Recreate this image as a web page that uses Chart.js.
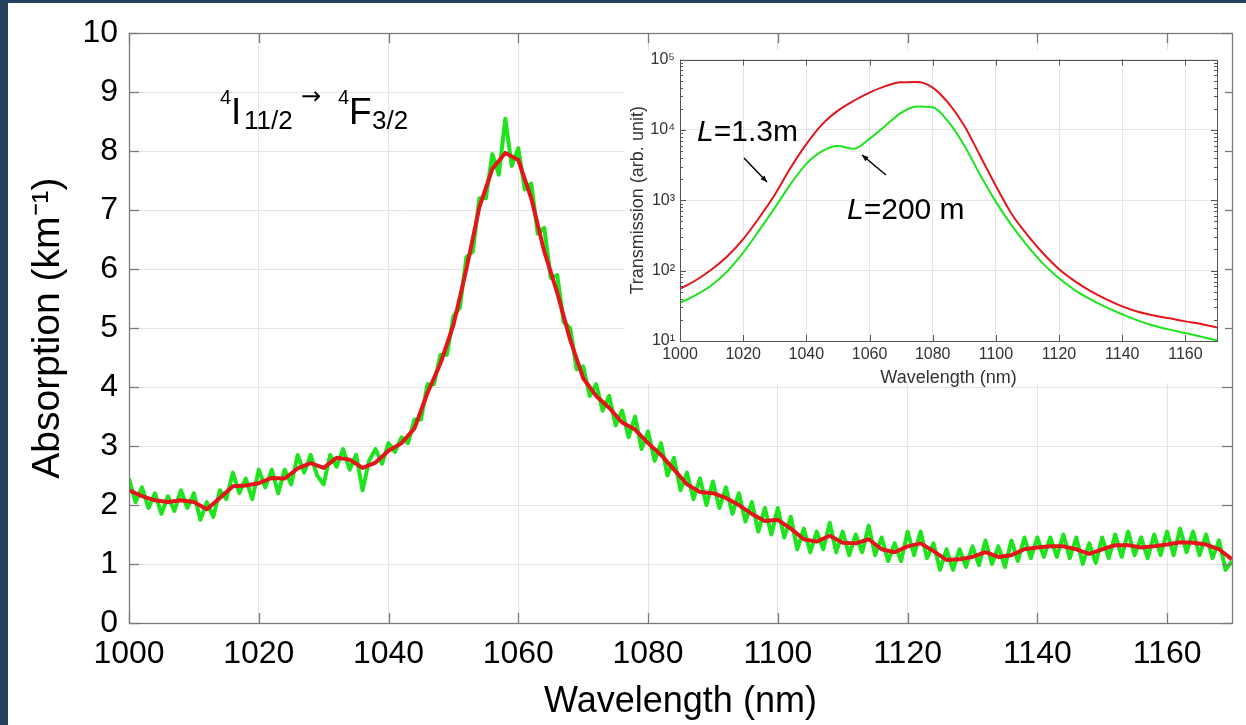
<!DOCTYPE html>
<html><head><meta charset="utf-8">
<script src="https://cdn.jsdelivr.net/npm/chart.js@4.4.1/dist/chart.umd.min.js"></script>
<style>
html,body{margin:0;padding:0;background:#24405f;width:1246px;height:725px;overflow:hidden;}
#main{position:absolute;left:8px;top:3px;background:#fff;}
#inset{position:absolute;left:622px;top:45px;}
</style></head><body>
<canvas id="main" width="1238" height="722"></canvas>
<canvas id="inset" width="603" height="350"></canvas>
<script>
// ---------- main chart data ----------
const noisyWavelength = [1000,1001,1002,1003,1004,1005,1006,1007,1008,1009,1010,1011,1012,1013,1014,1015,1016,1017,1018,1019,
1020,1021,1022,1023,1024,1025,1026,1027,1028,1029,1030,1031,1032,1033,1034,1035,1036,1037,1038,1039,
1040,1041,1042,1043,1044,1045,1046,1047,1048,1049,1050,1051,1052,1053,1054,1055,1056,1057,1058,1059,
1060,1061,1062,1063,1064,1065,1066,1067,1068,1069,1070,1071,1072,1073,1074,1075,1076,1077,1078,1079,
1080,1081,1082,1083,1084,1085,1086,1087,1088,1089,1090,1091,1092,1093,1094,1095,1096,1097,1098,1099,
1100,1101,1102,1103,1104,1105,1106,1107,1108,1109,1110,1111,1112,1113,1114,1115,1116,1117,1118,1119,
1120,1121,1122,1123,1124,1125,1126,1127,1128,1129,1130,1131,1132,1133,1134,1135,1136,1137,1138,1139,
1140,1141,1142,1143,1144,1145,1146,1147,1148,1149,1150,1151,1152,1153,1154,1155,1156,1157,1158,1159,
1160,1161,1162,1163,1164,1165,1166,1167,1168,1169,1170];
const noisyAbsorption = [2.45,2.05,2.3,1.95,2.2,1.85,2.15,1.9,2.25,1.95,2.2,1.75,2.05,1.8,2.25,2.1,2.55,2.2,2.45,2.1,
2.6,2.3,2.6,2.2,2.6,2.35,2.85,2.55,2.85,2.5,2.35,2.85,2.65,2.95,2.6,2.85,2.25,2.75,2.95,2.7,
3.05,2.9,3.15,3.05,3.45,3.45,4.05,4.05,4.55,4.55,5.2,5.35,6.2,6.3,7.2,7.2,7.95,7.6,8.55,7.75,
8.05,7.35,7.45,6.6,6.7,5.85,5.9,5.1,5.0,4.3,4.35,3.85,4.05,3.6,3.85,3.35,3.6,3.15,3.5,2.95,
3.25,2.75,3.05,2.5,2.8,2.25,2.55,2.1,2.45,2.0,2.4,1.95,2.3,1.85,2.2,1.72,2.05,1.55,1.95,1.5,
1.95,1.45,1.8,1.25,1.6,1.2,1.55,1.25,1.7,1.2,1.55,1.15,1.5,1.2,1.65,1.15,1.45,1.05,1.35,1.05,
1.55,1.15,1.55,1.1,1.35,0.9,1.25,0.9,1.25,0.95,1.3,0.98,1.4,1.0,1.3,0.95,1.4,1.05,1.45,1.1,
1.45,1.12,1.45,1.12,1.5,1.1,1.45,1.0,1.35,1.02,1.45,1.1,1.5,1.12,1.55,1.15,1.45,1.1,1.5,1.15,
1.55,1.15,1.6,1.2,1.55,1.15,1.5,1.1,1.4,0.9,1.05];
const smoothWavelength = [1000,1002,1004,1006,1008,1010,1012,1014,1016,1018,1020,1022,1024,1026,1028,1030,1032,1034,1036,1038,
1040,1042,1044,1046,1048,1050,1052,1054,1056,1058,1060,1062,1064,1066,1068,1070,1072,1074,1076,1078,
1080,1082,1084,1086,1088,1090,1092,1094,1096,1098,1100,1102,1104,1106,1108,1110,1112,1114,1116,1118,
1120,1122,1124,1126,1128,1130,1132,1134,1136,1138,1140,1142,1144,1146,1148,1150,1152,1154,1156,1158,
1160,1162,1164,1166,1168,1170];
const smoothAbsorption = [2.25,2.15,2.08,2.05,2.08,2.05,1.93,2.12,2.32,2.33,2.37,2.46,2.45,2.62,2.71,2.63,2.8,2.77,2.63,2.72,
2.92,3.05,3.3,3.9,4.4,5.05,6.0,7.05,7.7,7.97,7.85,7.2,6.3,5.6,4.8,4.15,3.85,3.65,3.4,3.28,
3.05,2.85,2.6,2.35,2.22,2.2,2.12,2.0,1.85,1.73,1.75,1.6,1.42,1.38,1.48,1.36,1.35,1.42,1.25,1.2,
1.3,1.35,1.22,1.07,1.08,1.12,1.2,1.12,1.15,1.25,1.28,1.3,1.3,1.25,1.17,1.25,1.32,1.32,1.28,1.3,
1.33,1.37,1.36,1.33,1.25,1.08];

// ---------- inset data ----------
const insetWavelength = [1000,1005,1010,1015,1020,1025,1030,1035,1040,1045,1050,1055,1060,1065,1070,1075,1080,1085,1090,1095,
1100,1105,1110,1115,1120,1125,1130,1135,1140,1145,1150,1155,1160,1165,1170];
const transmissionShort = [55,73,104,160,280,560,1200,2900,6300,12000,18800,26000,34000,42000,47500,48000,40000,24000,11500,4300,
1600,640,320,175,105,71,51,39,31,26,23,21,19,17.5,15.5];
const transmissionLong = [35,45,62,98,180,370,780,1700,3300,5000,5900,5400,7500,11500,17500,21500,21000,13000,6000,2300,
950,440,225,125,78,53,39,30,24,19.5,16.5,14.5,13,11.5,10.2];
const decadeTicks = [10,100,1000,10000,100000];
const superscripts = {1:'\u00B9',2:'\u00B2',3:'\u00B3',4:'\u2074',5:'\u2075'};

const FONT = '"Liberation Sans", Arial, Helvetica, sans-serif';
const GREEN = '#1ee41e';
const RED = '#e3161b';

function pts(xs, ys){ return xs.map((x,i)=>({x:x, y:ys[i]})); }
function line(ctx,x1,y1,x2,y2){ ctx.beginPath(); ctx.moveTo(x1,y1); ctx.lineTo(x2,y2); ctx.stroke(); }

// inward ticks + box
function boxPlugin(opt){
  return {
    id:'box'+opt.name,
    afterDraw(chart){
      const {ctx, chartArea:a, scales:{x,y}} = chart;
      ctx.save();
      ctx.strokeStyle = opt.tickColor; ctx.lineWidth = opt.lw;
      x.ticks.forEach(t=>{ const px = Math.round(x.getPixelForValue(t.value))+0.5;
        line(ctx,px,a.bottom,px,a.bottom-opt.tl); line(ctx,px,a.top,px,a.top+opt.tl); });
      y.ticks.forEach(t=>{ const py = Math.round(y.getPixelForValue(t.value))+0.5;
        line(ctx,a.left,py,a.left+opt.tl,py); line(ctx,a.right,py,a.right-opt.tl,py); });
      if (opt.minor) {
        opt.minor.forEach(v=>{ const py = Math.round(y.getPixelForValue(v))+0.5;
          line(ctx,a.left,py,a.left+opt.tl*0.5,py); line(ctx,a.right,py,a.right-opt.tl*0.5,py); });
      }
      ctx.strokeStyle = opt.boxColor;
      ctx.strokeRect(Math.round(a.left)+0.5, Math.round(a.top)+0.5, Math.round(a.right-a.left), Math.round(a.bottom-a.top));
      ctx.restore();
      if (opt.extra) opt.extra(ctx, chart);
    }
  };
}

// ---------- main chart ----------
const OX = 8, OY = 3;
function drawTransition(ctx){
  ctx.save();
  ctx.fillStyle = '#000'; ctx.textAlign = 'left'; ctx.textBaseline = 'alphabetic';
  const pieces = [
    ['4', 20, 220, 104, FONT], ['I', 37, 231, 124, FONT], ['11/2', 26, 244, 129, FONT],
    ['\u2192', 24, 301, 104, '"DejaVu Sans", sans-serif'],
    ['4', 20, 338, 104, FONT], ['F', 37, 349, 124, FONT], ['3/2', 26, 372, 129, FONT]
  ];
  pieces.forEach(p=>{
    ctx.font = p[1]+'px '+p[4];
    ctx.fillText(p[0], p[2]-OX, p[3]-OY);
  });
  ctx.restore();
}

new Chart(document.getElementById('main'), {
  type:'line',
  data:{ datasets:[
    { label:'Absorption (smoothed)', data: pts(smoothWavelength, smoothAbsorption), borderColor: RED, borderWidth: 4, pointRadius:0, tension:0, borderJoinStyle:'round' },
    { label:'Absorption (raw)', data: pts(noisyWavelength, noisyAbsorption), borderColor: GREEN, borderWidth: 4, pointRadius:0, tension:0, borderJoinStyle:'round' }
  ]},
  options:{
    responsive:false, animation:false, devicePixelRatio:1,
    layout:{ padding:{ top:22, right:14, left:0, bottom:0 } },
    plugins:{ legend:{display:false}, tooltip:{enabled:false} },
    scales:{
      x:{ type:'linear', min:1000, max:1170,
        afterFit:(s)=>{ s.height = 102; },
        ticks:{ stepSize:20, includeBounds:false, color:'#000', padding:12, font:{family:FONT, size:32}, maxRotation:0, callback:v=>String(v) },
        grid:{ color:'#e4e4e4', lineWidth:1, drawTicks:false },
        border:{ display:false },
        title:{ display:true, text:'Wavelength (nm)', color:'#000', font:{family:FONT, size:36, lineHeight:1.2}, padding:{top:0,bottom:1} }
      },
      y:{ type:'linear', min:0, max:10,
        afterFit:(s)=>{ s.width = 121; },
        ticks:{ stepSize:1, color:'#000', padding:11, font:{family:FONT, size:32} },
        grid:{ color:'#e4e4e4', lineWidth:1, drawTicks:false },
        border:{ display:false },
        title:{ display:true, text:'Absorption (km\u207B\u00B9)', color:'#000', font:{family:FONT, size:39, lineHeight:1.2}, padding:{top:17,bottom:0} }
      }
    }
  },
  plugins:[ boxPlugin({name:'main', tickColor:'#7a7a7a', boxColor:'#7a7a7a', lw:1.3, tl:10, extra:(ctx)=>drawTransition(ctx)}) ]
});

// ---------- inset chart ----------
const IX = 622, IY = 45;
const minorValues = [];
decadeTicks.slice(0,4).forEach(d=>{ [2,3,4,5,6,7,8,9].forEach(k=>minorValues.push(k*d)); });

function arrow(ctx, x1,y1,x2,y2){
  ctx.beginPath(); ctx.moveTo(x1,y1); ctx.lineTo(x2,y2); ctx.stroke();
  const ang = Math.atan2(y2-y1, x2-x1), h = 7;
  ctx.beginPath();
  ctx.moveTo(x2,y2);
  ctx.lineTo(x2 - h*Math.cos(ang-0.4), y2 - h*Math.sin(ang-0.4));
  ctx.lineTo(x2 - h*Math.cos(ang+0.4), y2 - h*Math.sin(ang+0.4));
  ctx.closePath(); ctx.fill();
}
function drawInsetNotes(ctx){
  ctx.save();
  ctx.fillStyle = '#000'; ctx.strokeStyle = '#000'; ctx.lineWidth = 1.5;
  ctx.textBaseline = 'alphabetic'; ctx.textAlign = 'left';
  let x = 697 - IX;
  ctx.font = 'italic 30px '+FONT; ctx.fillText('L', x, 141-IY); x += ctx.measureText('L').width;
  ctx.font = '30px '+FONT; ctx.fillText('=1.3m', x, 141-IY);
  x = 847 - IX;
  ctx.font = 'italic 30px '+FONT; ctx.fillText('L', x, 219-IY); x += ctx.measureText('L').width;
  ctx.font = '30px '+FONT; ctx.fillText('=200 m', x, 219-IY);
  arrow(ctx, 744-IX, 158-IY, 767-IX, 182-IY);
  arrow(ctx, 886-IX, 175-IY, 862-IX, 155-IY);
  ctx.restore();
}

new Chart(document.getElementById('inset'), {
  type:'line',
  data:{ datasets:[
    { label:'L=1.3m', data: pts(insetWavelength, transmissionShort), borderColor: RED, borderWidth: 2, pointRadius:0, tension:0.2, cubicInterpolationMode:'monotone' },
    { label:'L=200 m', data: pts(insetWavelength, transmissionLong), borderColor: GREEN, borderWidth: 2, pointRadius:0, tension:0.2, cubicInterpolationMode:'monotone' }
  ]},
  options:{
    responsive:false, animation:false, devicePixelRatio:1,
    layout:{ padding:{ top:12, right:8, left:0, bottom:0 } },
    plugins:{ legend:{display:false}, tooltip:{enabled:false} },
    scales:{
      x:{ type:'linear', min:1000, max:1170,
        afterFit:(s)=>{ s.height = 54; },
        ticks:{ stepSize:20, includeBounds:false, color:'#333', padding:4, font:{family:FONT, size:16}, maxRotation:0, callback:v=>String(v) },
        grid:{ color:'#e6e6e6', lineWidth:1, drawTicks:false },
        border:{ display:false },
        title:{ display:true, text:'Wavelength (nm)', color:'#333', font:{family:FONT, size:18, lineHeight:1.2}, padding:{top:0,bottom:6} }
      },
      y:{ type:'logarithmic', min:10, max:100000,
        afterBuildTicks:(s)=>{ s.ticks = decadeTicks.map(v=>({value:v, major:true})); },
        afterFit:(s)=>{ s.width = 58; },
        ticks:{ color:'#333', padding:5, font:{family:FONT, size:16}, callback:v=>'10'+superscripts[Math.round(Math.log10(v))] },
        grid:{ color:'#e6e6e6', lineWidth:1, drawTicks:false },
        border:{ display:false },
        title:{ display:true, text:'Transmission (arb. unit)', color:'#333', font:{family:FONT, size:18, lineHeight:1.2}, padding:{top:5,bottom:0} }
      }
    }
  },
  plugins:[
    { id:'insetBg', beforeDraw(chart){ const c = chart.ctx; c.save(); c.fillStyle='#fff'; c.fillRect(3, 5, 600, 333); c.restore(); } },
    boxPlugin({name:'inset', tickColor:'#555', boxColor:'#555', lw:1, tl:6, minor:minorValues, extra:(ctx)=>drawInsetNotes(ctx)})
  ]
});
</script>
</body></html>
